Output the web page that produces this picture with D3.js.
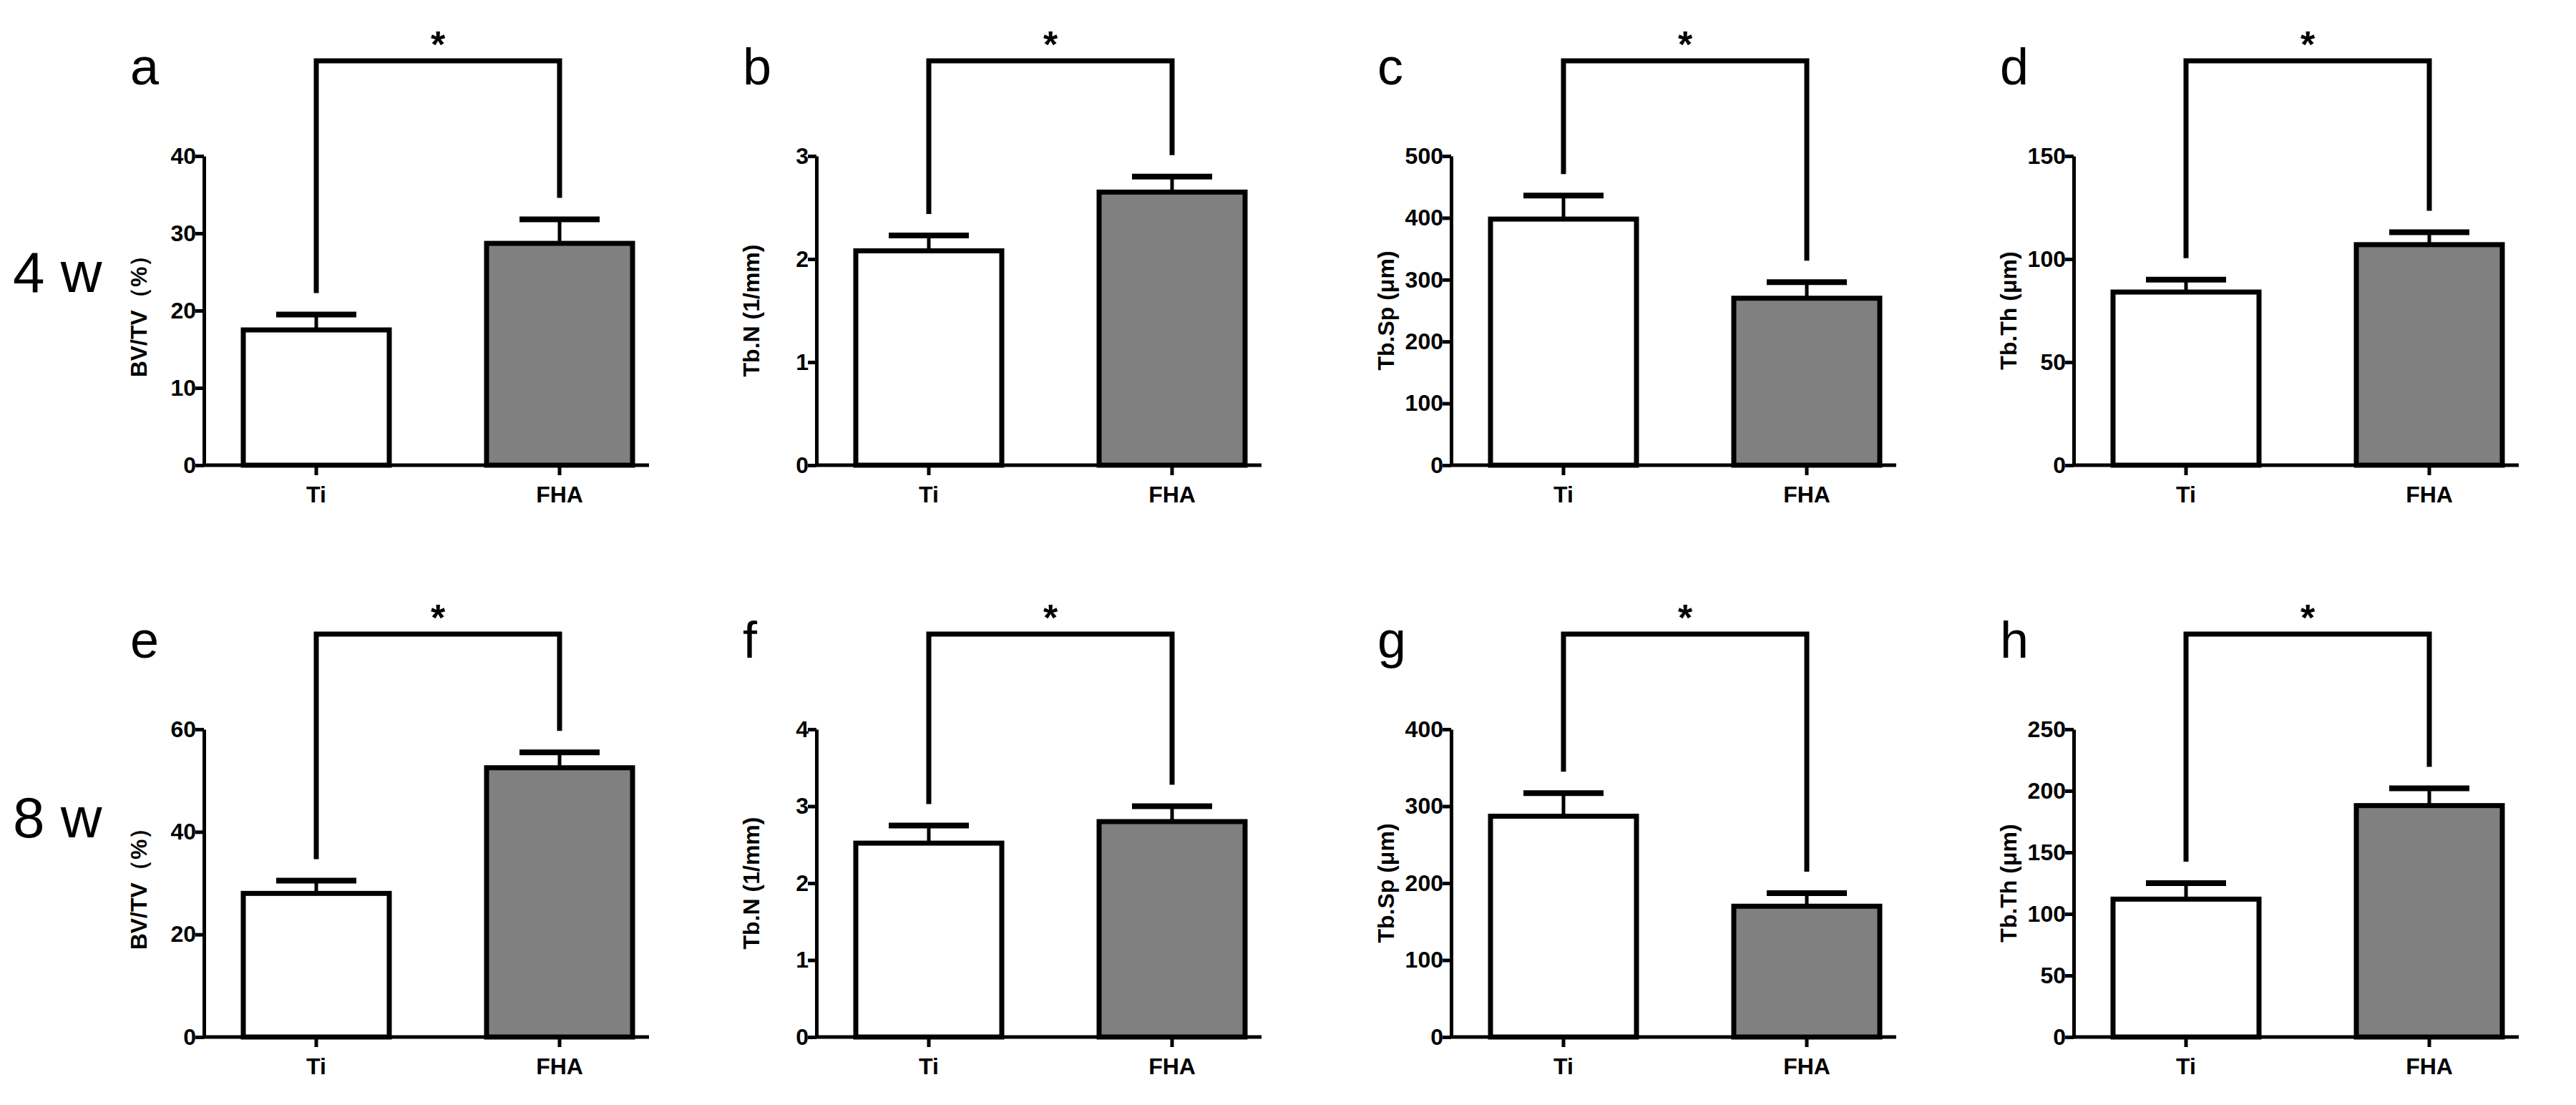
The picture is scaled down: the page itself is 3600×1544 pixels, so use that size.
<!DOCTYPE html>
<html><head><meta charset="utf-8">
<script src="https://cdn.jsdelivr.net/npm/d3@7"></script>
<style>body{margin:0;background:#fff}</style></head>
<body><svg id="c" width="3600" height="1544"></svg>
<script>
const groups = ["Ti","FHA"];
const letters = ["a","b","c","d","e","f","g","h"];
const titles = ["BV/TV（%）","Tb.N (1/mm)","Tb.Sp (μm)","Tb.Th (μm)","BV/TV（%）","Tb.N (1/mm)","Tb.Sp (μm)","Tb.Th (μm)"];
const means = [[17.5,28.7],[2.08,2.65],[398,270],[84,107],[28,52.5],[2.52,2.8],[287,170],[112,188]];
const errs  = [[2,3.1],[0.15,0.15],[38,26],[6,6],[2.5,3],[0.23,0.2],[30,17],[13,14]];
const yMax  = [40,3,500,150,60,4,400,250];
const tickStep = [10,1,100,50,20,1,100,50];
const rowLabels = ["4 w","8 w"];

const svg = d3.select("#c");
const font = "'Liberation Sans', Arial, sans-serif";
const colX = [285, 1141, 2028, 2898];
const rowTop = [218, 1019], rowBase = [650, 1449];
rowLabels.forEach((t,i)=>svg.append("text").attr("x",18).attr("y",[408,1170][i])
  .attr("font-family",font).attr("font-size",80).text(t));

letters.forEach((L,k)=>{
  const r = Math.floor(k/4), c = k%4;
  const x0 = colX[c];
  const g = svg.append("g");
  const y = d3.scaleLinear().domain([0,yMax[k]]).range([rowBase[r],rowTop[r]]);
  const x = d3.scaleBand().domain(groups).range([x0+55, x0+55+544]).paddingInner(0.4).paddingOuter(0);
  groups.forEach((gName,i)=>{
    const m = means[k][i], e = errs[k][i], cx = x(gName)+x.bandwidth()/2;
    g.append("line").attr("x1",cx).attr("x2",cx).attr("y1",y(m)).attr("y2",y(m+e)).attr("stroke","#000").attr("stroke-width",5);
    g.append("line").attr("x1",cx-56).attr("x2",cx+56).attr("y1",y(m+e)).attr("y2",y(m+e)).attr("stroke","#000").attr("stroke-width",8);
    g.append("rect").attr("x",x(gName)).attr("width",x.bandwidth()).attr("y",y(m)).attr("height",y(0)-y(m))
      .attr("fill",i? "#808080":"#fff").attr("stroke","#000").attr("stroke-width",7);
  });
  const ya = g.append("g").attr("transform",`translate(${x0},0)`)
    .call(d3.axisLeft(y).tickValues(d3.range(0,yMax[k]+1e-9,tickStep[k])).tickFormat(d3.format("d")).tickSize(12).tickSizeOuter(0));
  const xa = g.append("g").attr("transform",`translate(0,${rowBase[r]})`)
    .call(d3.axisBottom(x).tickSize(14).tickSizeOuter(0));
  [ya,xa].forEach(a=>{
    a.select(".domain").attr("stroke-width",5);
    a.selectAll(".tick line").attr("stroke-width",5);
    a.selectAll("text").attr("font-family",font).attr("font-weight","bold").attr("font-size",32);
  });
  xa.select(".domain").attr("d",`M${x0-2},0H${x0+622}`);
  ya.selectAll("text").attr("dx",4);
  xa.selectAll("text").attr("dy","1.1em");
  g.append("text").attr("transform",`translate(${x0-80},${(rowTop[r]+rowBase[r])/2}) rotate(-90)`)
    .attr("text-anchor","middle").attr("font-family",font).attr("font-weight","bold").attr("font-size",32).text(titles[k]);
  const by = rowTop[r]-133;
  const cxs = groups.map(n=>x(n)+x.bandwidth()/2);
  const ends = groups.map((n,i)=>y(means[k][i]+errs[k][i])-30);
  g.append("path").attr("d",`M${cxs[0]},${ends[0]}V${by}H${cxs[1]}V${ends[1]}`)
    .attr("fill","none").attr("stroke","#000").attr("stroke-width",7);
  g.append("text").attr("x",(cxs[0]+cxs[1])/2).attr("y",by-5).attr("text-anchor","middle")
    .attr("font-family",font).attr("font-weight","bold").attr("font-size",52).text("*");
  g.append("text").attr("x",x0-103).attr("y",rowTop[r]-100).attr("font-family",font).attr("font-size",72).text(L);
});
</script></body></html>
